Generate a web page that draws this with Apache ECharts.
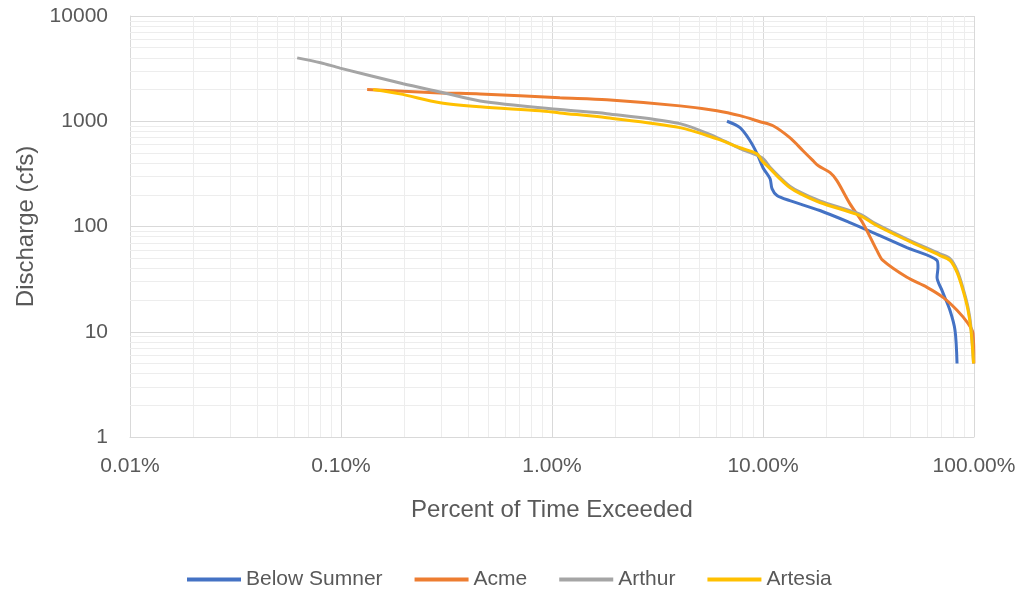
<!DOCTYPE html>
<html>
<head>
<meta charset="utf-8">
<script src="https://cdn.jsdelivr.net/npm/echarts@6/dist/echarts.min.js"></script>
<style>
  html, body { margin: 0; padding: 0; background: #ffffff; }
  #chart { width: 1020px; height: 594px; }
</style>
</head>
<body>
<div id="chart"></div>
<script>
// percent of time exceeded (x) and discharge in cfs (y)
var sumnerPct = [6.75, 7.78, 8.68, 9.37, 10.0, 10.8, 11.03, 11.65, 13.4, 18.6, 25.8, 35.8, 48.1, 66.8, 67.5, 66.8, 70.5, 76.9, 81.3, 83.1];
var sumnerCfs = [1000, 868, 653, 492, 362, 285, 229, 197, 176, 142, 109, 82, 63, 47.6, 40.9, 32.9, 24.7, 16, 10.3, 5];

var acmePct = [0.133, 0.295, 0.456, 1.09, 1.82, 4.04, 6.05, 7.78, 9.68, 11.16, 13.4, 15.47, 17.26, 18.23, 20.8, 22.4, 25.8, 29.8, 34.7, 37.0, 48.1, 59.9, 71.3, 83.1, 93.7, 98.9, 99.9];
var acmeCfs = [2000, 1860, 1820, 1670, 1600, 1400, 1260, 1130, 990, 906, 698, 525, 422, 379, 325, 273, 165, 107, 59, 47.6, 32.9, 26.4, 21.2, 16, 12, 9.7, 5];

var arthurPct = [0.062, 0.08, 0.099, 0.197, 0.295, 0.456, 1.09, 1.82, 4.04, 6.05, 7.78, 9.9, 10.8, 12.0, 13.4, 15.0, 18.6, 28.8, 34, 48.1, 69.0, 76.9, 83.1, 88.7, 93.7, 96.8, 99.5];
var arthurCfs = [4000, 3600, 3200, 2270, 1900, 1560, 1290, 1180, 950, 700, 550, 450, 365, 295, 242, 212, 175, 131, 107, 76, 55, 49.5, 38.5, 26, 17, 11, 5];

var artesiaPct = [0.142, 0.19, 0.295, 0.456, 0.877, 1.09, 1.82, 4.04, 6.05, 7.78, 9.37, 9.9, 10.8, 12.0, 13.4, 15.0, 18.6, 28.8, 34, 48.1, 69.0, 76.9, 83.1, 88.7, 93.7, 96.8, 99.5];
var artesiaCfs = [2000, 1820, 1500, 1370, 1260, 1200, 1080, 870, 680, 560, 490, 420, 355, 285, 234, 205, 169, 127, 104, 74, 53, 47.6, 36.6, 24.7, 16, 10.3, 5];

var seriesNames = ['Below Sumner', 'Acme', 'Arthur', 'Artesia'];
var seriesColors = ['#4472C4', '#ED7D31', '#A5A5A5', '#FFC000'];

var xDecades = [0.01, 0.1, 1, 10];
var yDecades = [1, 10, 100, 1000];
var minorSteps = [2, 3, 4, 5, 6, 7, 8, 9];

function pairs(xs, ys) {
  return xs.map(function (x, i) { return [x, ys[i]]; });
}

// minor grid lines (Excel style 2..9 in every decade)
var minorLines = [];
xDecades.forEach(function (d) {
  minorSteps.forEach(function (m) { minorLines.push({ xAxis: d * m }); });
});
yDecades.forEach(function (d) {
  minorSteps.forEach(function (m) { minorLines.push({ yAxis: d * m }); });
});

var textColor = '#595959';
var font = 'Liberation Sans';

var lineData = [
  pairs(sumnerPct, sumnerCfs),
  pairs(acmePct, acmeCfs),
  pairs(arthurPct, arthurCfs),
  pairs(artesiaPct, artesiaCfs)
];

var series = [{
  name: 'grid',
  type: 'line',
  data: [[1, 1]],
  showSymbol: false,
  lineStyle: { opacity: 0 },
  silent: true,
  z: 1,
  markLine: {
    silent: true,
    z: 1,
    symbol: 'none',
    label: { show: false },
    animation: false,
    lineStyle: { color: '#ededed', width: 1, type: 'solid' },
    data: minorLines
  }
}];

seriesNames.forEach(function (name, i) {
  series.push({
    name: name,
    type: 'line',
    data: lineData[i],
    smooth: 0.3,
    showSymbol: false,
    z: 10 + i,
    lineStyle: { width: 3, color: seriesColors[i] },
    itemStyle: { color: seriesColors[i] }
  });
});

var option = {
  backgroundColor: '#ffffff',
  animation: false,
  grid: {
    left: 130,
    right: 46,
    top: 16,
    bottom: 157
  },
  legend: {
    top: 564,
    left: 182,
    data: seriesNames,
    icon: 'rect',
    itemWidth: 54,
    itemHeight: 4,
    itemGap: 32,
    textStyle: { color: textColor, fontSize: 21, fontFamily: font }
  },
  xAxis: {
    type: 'log',
    logBase: 10,
    min: 0.01,
    max: 100,
    name: 'Percent of Time Exceeded',
    nameLocation: 'middle',
    nameGap: 61,
    nameTextStyle: { color: textColor, fontSize: 24, fontFamily: font },
    axisLine: { lineStyle: { color: '#d9d9d9' } },
    axisTick: { show: false },
    axisLabel: {
      color: textColor,
      fontSize: 21,
      fontFamily: font,
      margin: 19,
      formatter: function (v) { return v.toFixed(2) + '%'; }
    },
    splitLine: { show: true, lineStyle: { color: '#d9d9d9', width: 1 } }
  },
  yAxis: {
    type: 'log',
    logBase: 10,
    min: 1,
    max: 10000,
    name: 'Discharge (cfs)',
    nameLocation: 'middle',
    nameGap: 91,
    nameTextStyle: { color: textColor, fontSize: 24, fontFamily: font },
    axisLine: { show: true, lineStyle: { color: '#d9d9d9' } },
    axisTick: { show: false },
    axisLabel: {
      color: textColor,
      fontSize: 21,
      fontFamily: font,
      margin: 22,
      formatter: function (v) { return String(v); }
    },
    splitLine: { show: true, lineStyle: { color: '#d9d9d9', width: 1 } }
  },
  series: series
};

var chart = echarts.init(document.getElementById('chart'));
chart.setOption(option);
</script>
</body>
</html>
